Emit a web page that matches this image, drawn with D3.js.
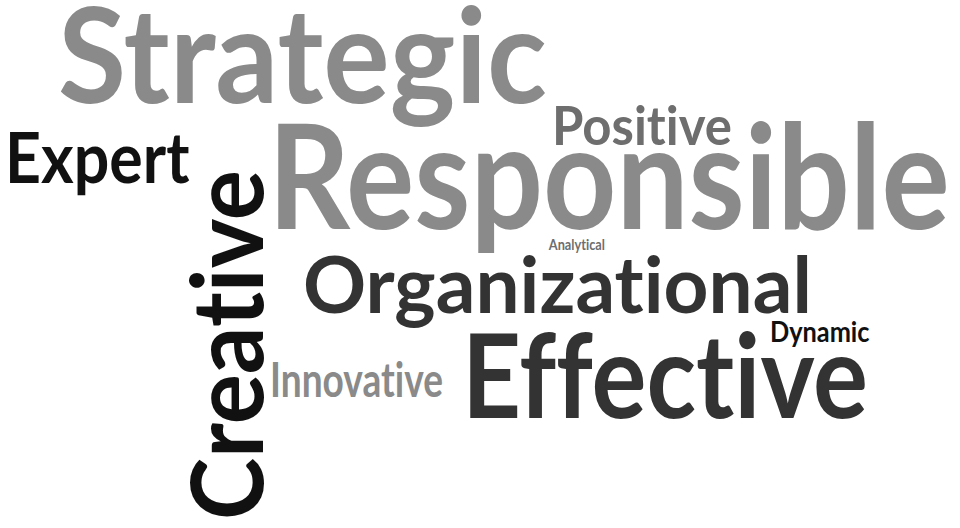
<!DOCTYPE html>
<html>
<head>
<meta charset="utf-8">
<script src="https://cdn.jsdelivr.net/npm/d3@7"></script>
<style>
  html, body { margin: 0; padding: 0; background: #ffffff; }
  svg { display: block; }
  text {
    font-family: Lato, "Open Sans", "Liberation Sans", sans-serif;
    font-weight: 700;
    font-variant-ligatures: none;
    font-feature-settings: "liga" 0, "clig" 0, "dlig" 0;
  }
</style>
</head>
<body>
<script>
// ---- data ----
const words   = ["Strategic", "Responsible", "Positive", "Expert", "Creative",
                 "Organizational", "Analytical", "Dynamic", "Effective", "Innovative"];
const weights = [133, 145, 53, 71, 100, 78, 15, 28, 116, 47];

// ---- style ----
const tones   = ["#8a8a8a", "#8a8a8a", "#6e6e6e", "#111111", "#111111",
                 "#333333", "#6e6e6e", "#111111", "#333333", "#8a8a8a"];

// ---- layout (word cloud placement: left x / baseline y / target ink width / rotation) ----
const layoutX = [58, 268, 552, 5, 263, 303, 548, 770, 462, 270];
const layoutY = [103, 229, 145, 183, 520, 313, 250, 342, 418, 397];
const layoutW = [489, 682, 180, 185, 350, 509, 57, 100, 406, 173];
const layoutR = [0, 0, 0, 0, -90, 0, 0, 0, 0, 0];

const W = 960, H = 528;
const svg = d3.select("body").append("svg")
  .attr("width", W).attr("height", H)
  .attr("viewBox", `0 0 ${W} ${H}`);

svg.append("rect").attr("width", W).attr("height", H).attr("fill", "#ffffff");

const fontSize = d3.scaleLinear()
  .domain([0, d3.max(weights)])
  .range([0, 145]);

const items = words.map((w, i) => ({ word: w, weight: weights[i], i }));

svg.append("g").selectAll("text")
  .data(items)
  .join("text")
  .text(d => d.word)
  .attr("font-size", d => fontSize(d.weight))
  .attr("fill", d => tones[d.i])
  .attr("x", 0).attr("y", 0)
  .each(function (d) {
    const bb = this.getBBox();
    const sx = layoutW[d.i] / bb.width;
    const x0 = -bb.x;
    d3.select(this)
      .attr("x", x0)
      .attr("transform",
        `translate(${layoutX[d.i]},${layoutY[d.i]}) rotate(${layoutR[d.i]}) scale(${sx},1)`);
  });
</script>
</body>
</html>
